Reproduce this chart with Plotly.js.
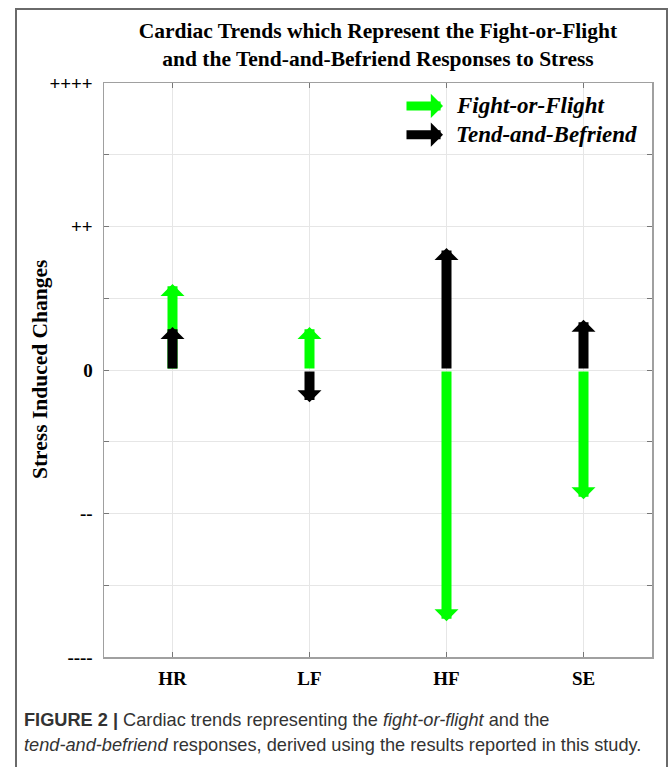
<!DOCTYPE html>
<html>
<head>
<meta charset="utf-8">
<script src="https://cdn.plot.ly/plotly-3.0.1.min.js"></script>
<style>
  html, body { margin: 0; padding: 0; background: #fff; }
  #wrap { position: relative; width: 669px; height: 767px; overflow: hidden; }
  #chart { position: absolute; left: 0; top: 0; width: 669px; height: 767px; }
  #frame { position: absolute; left: 15px; top: 8px; width: 649px; height: 800px;
           border: 2px solid #6a6a6a; pointer-events: none; }
</style>
</head>
<body>
<div id="wrap">
  <div id="chart"></div>
  <div id="frame"></div>
</div>
<script>
// ---- data ----
const categories = ['HR', 'LF', 'HF', 'SE'];
const fightOrFlight = [1.2, 0.6, -3.5, -1.8];
const tendAndBefriend = [0.6, -0.45, 1.7, 0.7];
const seriesNames = ['Fight-or-Flight', 'Tend-and-Befriend'];
const seriesColors = ['#00ff00', '#000000'];
const yTickValues = [-4, -3, -2, -1, 0, 1, 2, 3, 4];
const yTickLabels = ['----', '', '--', '', '0', '', '++', '', '++++'];
const titleText = 'Cardiac Trends which Represent the Fight-or-Flight<br>and the Tend-and-Befriend Responses to Stress';
const yTitleText = 'Stress Induced Changes';
const captionLine1 = '<b>FIGURE 2 |</b> Cardiac trends representing the <i>fight-or-flight</i> and the';
const captionLine2 = '<i>tend-and-befriend</i> responses, derived using the results reported in this study.';

const serif = '"Liberation Serif", "Times New Roman", Times, serif';
const sans = '"Liberation Sans", Arial, Helvetica, sans-serif';

// invisible trace to establish axes
const traces = [{
  x: categories.map((c, i) => i + 1),
  y: categories.map(() => 0),
  mode: 'markers',
  marker: { opacity: 0 },
  hoverinfo: 'skip',
  showlegend: false
}];

function arrow(xv, yv, color) {
  return {
    x: xv, y: yv, ax: xv, ay: 0,
    xref: 'x', yref: 'y', axref: 'x', ayref: 'y',
    text: '', showarrow: true,
    arrowhead: 1, arrowsize: 0.4, arrowwidth: 10,
    arrowcolor: color, standoff: 0
  };
}

const annotations = [];
const allSeries = [fightOrFlight, tendAndBefriend];
allSeries.forEach((vals, s) => {
  vals.forEach((v, i) => annotations.push(arrow(i + 1, v, seriesColors[s])));
});

// legend glyphs and labels
const legY = [0.96, 0.91];
seriesNames.forEach((name, s) => {
  annotations.push({
    xref: 'paper', yref: 'paper', x: 0.6186, y: legY[s],
    axref: 'pixel', ayref: 'pixel', ax: -38, ay: 0,
    text: '', showarrow: true, arrowhead: 1, arrowsize: 0.45, arrowwidth: 9,
    arrowcolor: seriesColors[s], standoff: 0
  });
  annotations.push({
    xref: 'paper', yref: 'paper', x: 0.638, y: legY[s],
    xanchor: 'left', yanchor: 'middle', showarrow: false,
    text: '<b><i>' + name + '</i></b>',
    font: { family: serif, size: 23, color: '#000' }
  });
});

// y axis title
annotations.push({
  xref: 'paper', yref: 'paper', x: (40 - 104) / 548, y: 0.5,
  xanchor: 'center', yanchor: 'middle', showarrow: false, textangle: -90,
  text: '<b>' + yTitleText + '</b>',
  font: { family: serif, size: 21.5, color: '#000' }
});

// caption
annotations.push({
  xref: 'paper', yref: 'paper', x: -0.1496, y: -0.1098,
  xanchor: 'left', yanchor: 'middle', showarrow: false, align: 'left',
  text: captionLine1, font: { family: sans, size: 18.2, color: '#333' }
});
annotations.push({
  xref: 'paper', yref: 'paper', x: -0.1496, y: -0.1533,
  xanchor: 'left', yanchor: 'middle', showarrow: false, align: 'left',
  text: captionLine2, font: { family: sans, size: 18.2, color: '#333' }
});

const layout = {
  width: 669, height: 767,
  margin: { l: 104, r: 17, t: 83, b: 110 },
  paper_bgcolor: '#fff', plot_bgcolor: '#fff',
  showlegend: false,
  title: {
    text: '<b>' + titleText + '</b>',
    font: { family: serif, size: 21.5, color: '#000' },
    x: 0.565, xref: 'container', xanchor: 'center',
    y: 1 - 38 / 767, yref: 'container', yanchor: 'middle'
  },
  xaxis: {
    range: [0.5, 4.5],
    tickvals: categories.map((c, i) => i + 1),
    ticktext: categories.map(c => '<b>' + c + '</b>'),
    tickfont: { family: serif, size: 19, color: '#000' },
    ticks: 'inside', ticklen: 5, tickcolor: '#777', tickwidth: 1,
    ticklabelstandoff: 4,
    showline: true, linecolor: '#a0a0a0', linewidth: 1.5, mirror: 'ticks',
    showgrid: true, gridcolor: '#e6e6e6', gridwidth: 1,
    zeroline: false, fixedrange: true
  },
  yaxis: {
    range: [-4, 4],
    tickvals: yTickValues,
    ticktext: yTickLabels.map(t => '<b>' + t + '</b>'),
    tickfont: { family: serif, size: 19, color: '#000' },
    ticks: 'inside', ticklen: 5, tickcolor: '#777', tickwidth: 1,
    ticklabelstandoff: 6,
    showline: true, linecolor: '#a0a0a0', linewidth: 1.5, mirror: 'ticks',
    showgrid: true, gridcolor: '#e6e6e6', gridwidth: 1,
    zeroline: false, fixedrange: true
  },
  annotations: annotations
};

Plotly.newPlot('chart', traces, layout, { staticPlot: true, displayModeBar: false });
</script>
</body>
</html>
